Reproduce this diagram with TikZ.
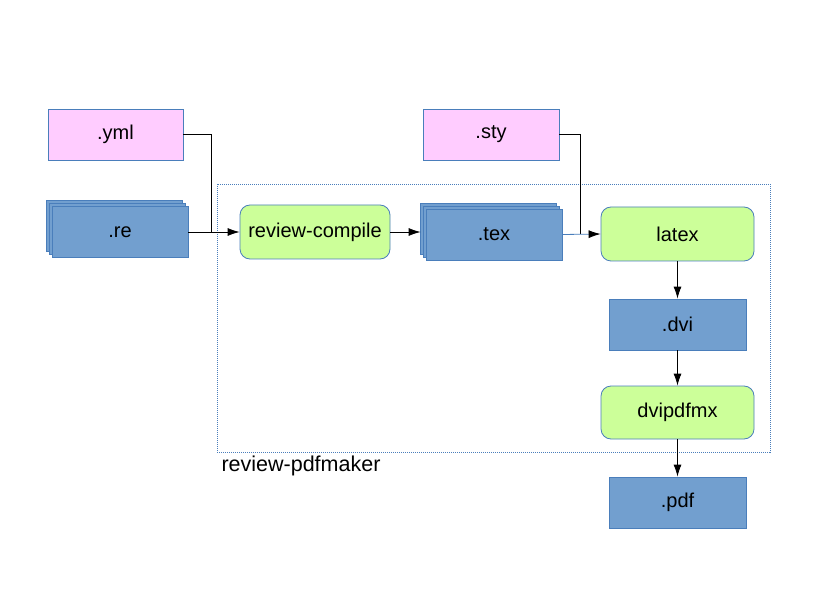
\documentclass[tikz,border=0pt]{standalone}
\usepackage{fontspec}
\setmainfont{Liberation Sans}
\usetikzlibrary{arrows.meta,shadows}

\definecolor{filepink}{HTML}{FFCCFF}
\definecolor{fileblue}{HTML}{729FCF}
\definecolor{toolgreen}{HTML}{CCFF99}
\definecolor{edgeblue}{HTML}{4A7EBB}

\tikzset{
  every node/.style={font=\fontsize{20}{23}\selectfont},
  conf/.style={draw=edgeblue,fill=filepink,line width=0.8pt,
    minimum width=135pt,minimum height=51pt},
  doc/.style={draw=edgeblue,fill=fileblue,line width=0.8pt,
    minimum width=136pt,minimum height=51pt},
  docs/.style={doc,double copy shadow={shadow xshift=-3pt,shadow yshift=3pt}},
  tool/.style={draw=edgeblue,fill=toolgreen,line width=0.8pt,rounded corners=10pt,
    minimum width=153pt,minimum height=54pt},
  flow/.style={line width=0.8pt,-{Latex[length=12pt,width=8pt,color=black]}}
}

\begin{document}
\begin{tikzpicture}[x=1pt,y=-1pt]
  \useasboundingbox (0,0) rectangle (816,612);

  % the review-pdfmaker frame
  \draw[edgeblue,line width=0.6pt,dash pattern=on 1pt off 1pt]
        (217,184) rectangle (770,452);
  \node[anchor=west,font=\fontsize{21.5}{24}\selectfont] (maker) at (218,466) {review-pdfmaker};

  % inputs
  \node[conf] (yml) at (115.5,134.5) {.yml};
  \node[docs] (re) at (120,232) {.re};
  \node[conf,minimum width=136pt] (sty) at (491,134.5) {.sty};

  % tools and outputs
  \node[tool,minimum width=150pt] (compile) at (315,232) {review-compile};
  \node[docs] (tex) at (494,234.5) {.tex};
  \node[tool] (latex) at (677.5,234) {latex};
  \node[doc,minimum width=137pt] (dvi) at (677.5,324.5) {.dvi};
  \node[tool,minimum height=53pt] (dvipdfmx) at (677.5,412.5) {dvipdfmx};
  \node[doc,minimum width=137pt] (pdf) at (677.5,502.5) {.pdf};

  \coordinate (ymljoin) at (211,232);
  \coordinate (styjoin) at (580,234);

  \draw[line width=0.8pt] (yml.east) -| (ymljoin);
  \draw[line width=0.8pt] (sty.east) -| (styjoin);
  \draw[flow] (re.east) -- (compile.west);
  \draw[flow,shorten >=5pt] (compile.east) -- (compile.east -| tex.west);
  \draw[flow,edgeblue] (tex.east) -- (latex.west);
  \draw[flow] (latex) -- (dvi);
  \draw[flow] (dvi) -- (dvipdfmx);
  \draw[flow] (dvipdfmx) -- (pdf);
\end{tikzpicture}
\end{document}
